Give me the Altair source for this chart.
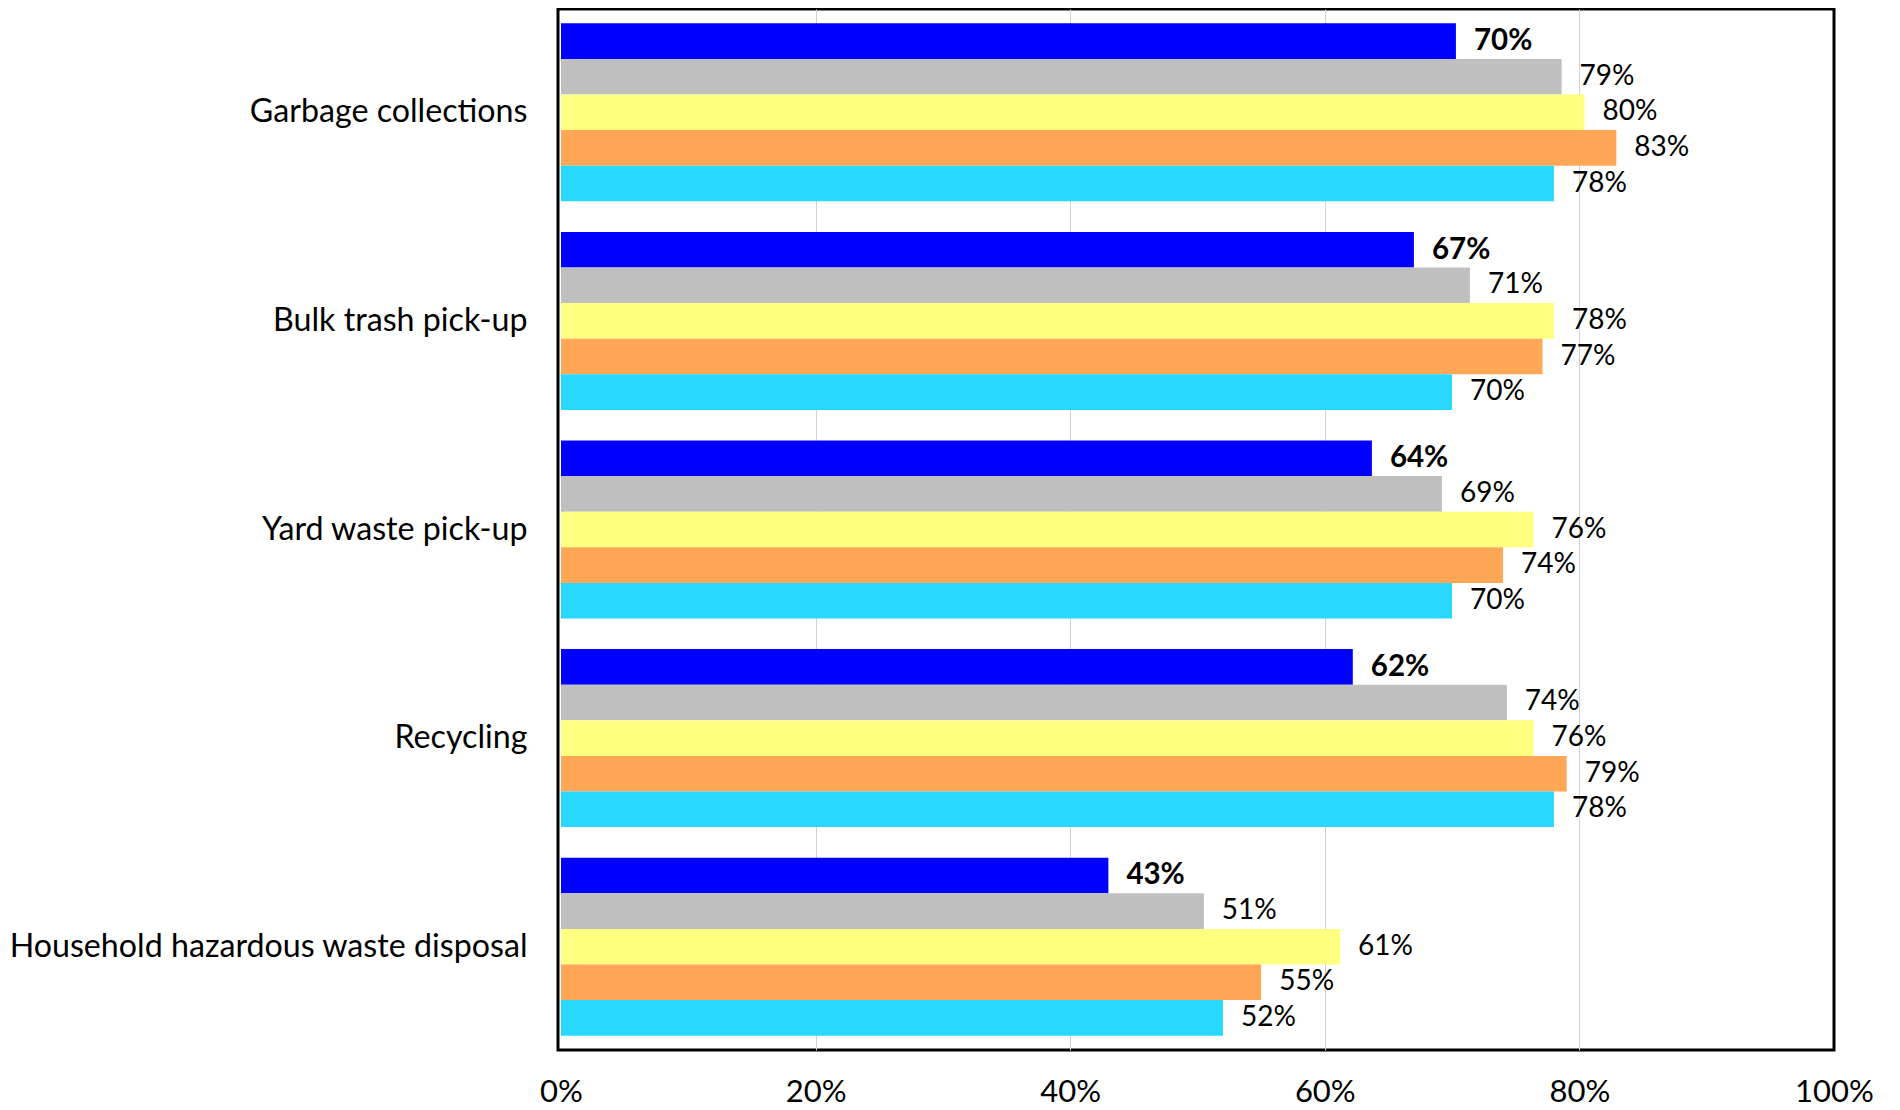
import altair as alt
import pandas as pd

categories = [
    "Garbage collections",
    "Bulk trash pick-up",
    "Yard waste pick-up",
    "Recycling",
    "Household hazardous waste disposal",
]
series = ["Series 1", "Series 2", "Series 3", "Series 4", "Series 5"]
colors = ["#0000FF", "#BFBFBF", "#FFFF80", "#FFA757", "#29D8FF"]

values_s1 = [0.703, 0.670, 0.637, 0.622, 0.430]
values_s2 = [0.786, 0.714, 0.692, 0.743, 0.505]
values_s3 = [0.804, 0.780, 0.764, 0.764, 0.612]
values_s4 = [0.829, 0.771, 0.740, 0.790, 0.550]
values_s5 = [0.780, 0.700, 0.700, 0.780, 0.520]

all_values = [values_s1, values_s2, values_s3, values_s4, values_s5]
rows = []
for s, vals in zip(series, all_values):
    for c, v in zip(categories, vals):
        rows.append({"category": c, "series": s, "value": v})
df = pd.DataFrame(rows)

FONT = "Lato"
W = 1276
H = 1041

y_enc = alt.Y(
    "category:N",
    sort=categories,
    scale=alt.Scale(paddingInner=0.1467, paddingOuter=0.0686),
    axis=alt.Axis(
        title=None,
        domain=False,
        ticks=False,
        labelPadding=31,
        labelFontSize=32.2,
        labelFont=FONT,
        labelColor="#000000",
        labelLimit=700,
    ),
)
yoff = alt.YOffset("series:N", sort=series, scale=alt.Scale(paddingInner=0, paddingOuter=0))
x_scale = alt.Scale(domain=[0, 1], nice=False, range=[3, W])
x_enc = alt.X(
    "value:Q",
    scale=x_scale,
    axis=alt.Axis(
        title=None,
        format=".0%",
        values=[0, 0.2, 0.4, 0.6, 0.8, 1.0],
        domain=False,
        ticks=False,
        labelPadding=51,
        labelBaseline="alphabetic",
        labelFontSize=31,
        labelFont=FONT,
        labelColor="#000000",
        labelFlush=False,
        grid=True,
        gridColor="#D0D0D0",
        gridWidth=1,
        gridOpacity={"condition": {"test": "datum.value <= 0 || datum.value >= 1", "value": 0}, "value": 1},
    ),
)

base = alt.Chart(df)

bars = base.mark_bar().encode(
    x=x_enc,
    y=y_enc,
    yOffset=yoff,
    color=alt.Color("series:N", sort=series, scale=alt.Scale(domain=series, range=colors), legend=None),
)

labels_bold = base.transform_filter(alt.datum.series == series[0]).mark_text(
    align="left", baseline="middle", dx=18, font=FONT, fontSize=29.5, fontWeight="bold", color="#000000"
).encode(
    x=alt.X("value:Q", scale=x_scale),
    y=alt.Y("category:N", sort=categories),
    yOffset=yoff,
    text=alt.Text("value:Q", format=".0%"),
)

labels_plain = base.transform_filter(alt.datum.series != series[0]).mark_text(
    align="left", baseline="middle", dx=18, font=FONT, fontSize=28, color="#000000"
).encode(
    x=alt.X("value:Q", scale=x_scale),
    y=alt.Y("category:N", sort=categories),
    yOffset=yoff,
    text=alt.Text("value:Q", format=".0%"),
)

chart = (
    alt.layer(bars, labels_bold, labels_plain)
    .properties(
        width=W,
        height=H,
        autosize=alt.AutoSizeParams(type="none"),
        padding={"left": 550, "top": 1, "right": 40, "bottom": 52},
    )
    .configure_view(stroke="#000000", strokeWidth=3)
)

chart.save("out.html", embed_options={"renderer": "svg", "actions": False})
